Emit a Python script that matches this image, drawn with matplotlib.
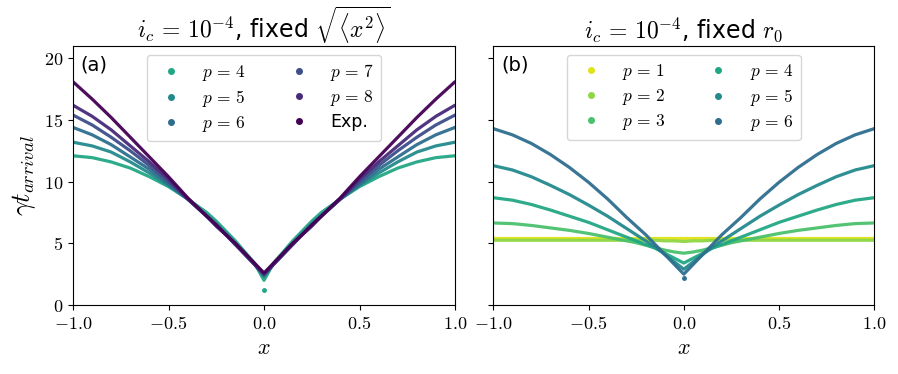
import numpy as np
import matplotlib
matplotlib.use('Agg')
import matplotlib.pyplot as plt
from matplotlib.lines import Line2D
from matplotlib.ticker import FuncFormatter

plt.rcParams['mathtext.fontset'] = 'cm'
plt.rcParams['font.family'] = ['DejaVu Sans']

x = [-1.0, -0.9, -0.8, -0.7, -0.6, -0.5, -0.4, -0.3, -0.25, -0.2, -0.15, -0.1, -0.05, 0.0,
     0.05, 0.1, 0.15, 0.2, 0.25, 0.3, 0.4, 0.5, 0.6, 0.7, 0.8, 0.9, 1.0]

# (a) fixed sqrt(<x^2>)
a_labels = [r'$p\,=\,4$', r'$p\,=\,5$', r'$p\,=\,6$', r'$p\,=\,7$', r'$p\,=\,8$', 'Exp.']
a_p4 = [12.1, 11.95, 11.6, 11.1, 10.4, 9.6, 8.6, 7.5, 6.8, 6.0, 5.2, 4.3, 3.4, 2.0,
        3.4, 4.3, 5.2, 6.0, 6.8, 7.5, 8.6, 9.6, 10.4, 11.1, 11.6, 11.95, 12.1]
a_p5 = [13.2, 12.9, 12.4, 11.6, 10.7, 9.7, 8.6, 7.3, 6.6, 5.8, 5.0, 4.2, 3.3, 2.3,
        3.3, 4.2, 5.0, 5.8, 6.6, 7.3, 8.6, 9.7, 10.7, 11.6, 12.4, 12.9, 13.2]
a_p6 = [14.4, 13.8, 13.0, 12.0, 11.0, 9.8, 8.6, 7.2, 6.5, 5.8, 5.0, 4.1, 3.3, 2.4,
        3.3, 4.1, 5.0, 5.8, 6.5, 7.2, 8.6, 9.8, 11.0, 12.0, 13.0, 13.8, 14.4]
a_p7 = [15.4, 14.6, 13.6, 12.5, 11.3, 10.0, 8.6, 7.2, 6.4, 5.7, 4.9, 4.1, 3.3, 2.5,
        3.3, 4.1, 4.9, 5.7, 6.4, 7.2, 8.6, 10.0, 11.3, 12.5, 13.6, 14.6, 15.4]
a_p8 = [16.2, 15.3, 14.2, 12.9, 11.6, 10.2, 8.6, 7.2, 6.4, 5.7, 4.9, 4.1, 3.3, 2.5,
        3.3, 4.1, 4.9, 5.7, 6.4, 7.2, 8.6, 10.2, 11.6, 12.9, 14.2, 15.3, 16.2]
a_exp = [18.1, 16.7, 15.2, 13.6, 12.0, 10.4, 8.7, 7.2, 6.5, 5.7, 5.0, 4.2, 3.4, 2.6,
         3.4, 4.2, 5.0, 5.7, 6.5, 7.2, 8.7, 10.4, 12.0, 13.6, 15.2, 16.7, 18.1]
a_outlier = (0.0, 1.25)   # lone p=4 point at x=0

# (b) fixed r0
b_labels = [r'$p\,=\,1$', r'$p\,=\,2$', r'$p\,=\,3$', r'$p\,=\,4$', r'$p\,=\,5$', r'$p\,=\,6$']
b_p1 = [5.4] * 27
b_p2 = [5.25, 5.25, 5.25, 5.25, 5.25, 5.25, 5.25, 5.25, 5.25, 5.25, 5.25, 5.2, 5.2, 5.15,
        5.2, 5.2, 5.25, 5.25, 5.25, 5.25, 5.25, 5.25, 5.25, 5.25, 5.25, 5.25, 5.25]
b_p3 = [6.65, 6.6, 6.45, 6.25, 6.05, 5.8, 5.5, 5.2, 5.05, 4.85, 4.65, 4.45, 4.3, 4.2,
        4.3, 4.45, 4.65, 4.85, 5.05, 5.2, 5.5, 5.8, 6.05, 6.25, 6.45, 6.6, 6.65]
b_p4 = [8.7, 8.5, 8.15, 7.7, 7.2, 6.7, 6.1, 5.5, 5.2, 4.9, 4.6, 4.2, 3.8, 3.4,
        3.8, 4.2, 4.6, 4.9, 5.2, 5.5, 6.1, 6.7, 7.2, 7.7, 8.15, 8.5, 8.7]
b_p5 = [11.3, 10.95, 10.4, 9.7, 8.95, 8.1, 7.2, 6.2, 5.7, 5.2, 4.7, 4.1, 3.5, 2.9,
        3.5, 4.1, 4.7, 5.2, 5.7, 6.2, 7.2, 8.1, 8.95, 9.7, 10.4, 10.95, 11.3]
b_p6 = [14.3, 13.8, 13.1, 12.2, 11.15, 9.95, 8.6, 7.1, 6.4, 5.7, 4.9, 4.1, 3.3, 2.5,
        3.3, 4.1, 4.9, 5.7, 6.4, 7.1, 8.6, 9.95, 11.15, 12.2, 13.1, 13.8, 14.3]
b_outlier = (0.0, 2.15)   # lone p=6 point at x=0

# viridis colours, p=1 (yellow) ... p=8, Exp. (dark purple)
cols = plt.cm.viridis(np.linspace(0.95, 0.0, 9))
a_cols = cols[3:]
b_cols = cols[:6]

fig = plt.figure(figsize=(8.98, 3.74), dpi=100)
ax1 = fig.add_axes([0.0813, 0.1845, 0.4254, 0.6925])
ax2 = fig.add_axes([0.5493, 0.1845, 0.4243, 0.6925], sharey=ax1)

xfmt = FuncFormatter(lambda v, pos: r'$%.1f$' % v)
yfmt = FuncFormatter(lambda v, pos: r'$%d$' % v)

def draw(ax, curves, colours, labels, outlier, oc, tag, title):
    for y, c in zip(curves, colours):
        ax.plot(x, y, '-', color=c, lw=2.3, solid_capstyle='round', alpha=0.95)
    ax.plot([outlier[0]], [outlier[1]], 'o', color=oc, ms=2.5)
    handles = [Line2D([], [], ls='none', marker='o', ms=4, color=c) for c in colours]
    ax.legend(handles, labels, loc='upper center', ncol=2, fontsize=12.5,
              framealpha=0.8, columnspacing=2.0, labelspacing=0.3)
    ax.text(0.02, 0.965, tag, transform=ax.transAxes, va='top', ha='left', fontsize=14)
    ax.set_xlim(-1, 1)
    ax.set_xticks([-1, -0.5, 0, 0.5, 1])
    ax.xaxis.set_major_formatter(xfmt)
    ax.tick_params(labelsize=13)
    ax.set_xlabel(r'$x$', fontsize=16)
    ax.set_title(title, fontsize=17)

draw(ax1, [a_p4, a_p5, a_p6, a_p7, a_p8, a_exp], a_cols, a_labels, a_outlier, a_cols[0],
     '(a)', r'$i_c\,=\,10^{-4}$, fixed $\sqrt{\langle x^2\rangle}$')
draw(ax2, [b_p1, b_p2, b_p3, b_p4, b_p5, b_p6], b_cols, b_labels, b_outlier, b_cols[5],
     '(b)', r'$i_c\,=\,10^{-4}$, fixed $r_0$')

ax1.set_ylim(0, 21)
ax1.set_yticks([0, 5, 10, 15, 20])
ax1.yaxis.set_major_formatter(yfmt)
ax1.set_ylabel(r'$\gamma t_{arrival}$', fontsize=19)
ax2.tick_params(labelleft=False)

fig.savefig('out.png', dpi=100)
